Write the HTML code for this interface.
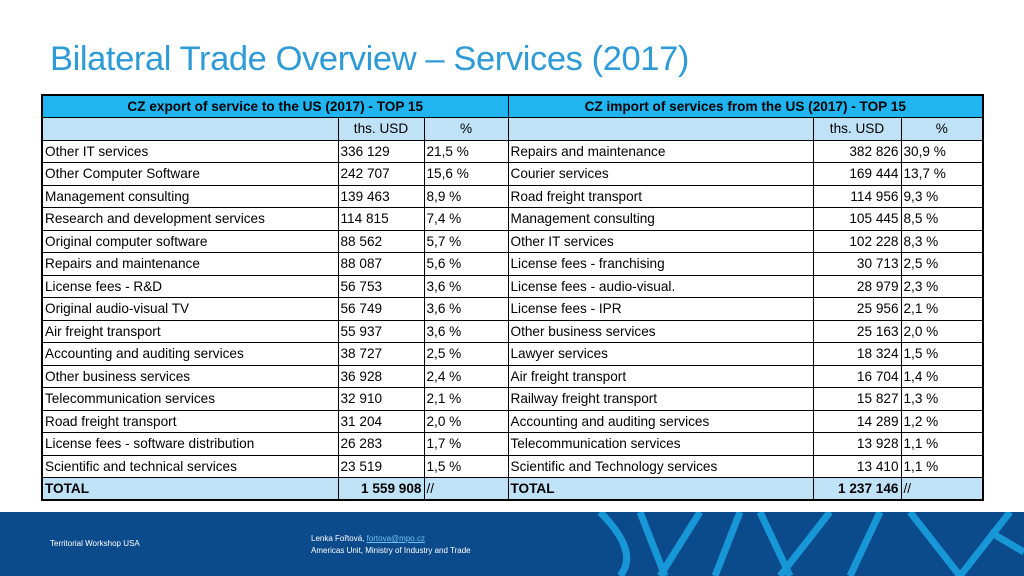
<!DOCTYPE html>
<html><head><meta charset="utf-8"><style>
body{margin:0;width:1024px;height:576px;overflow:hidden;background:#fff;font-family:"Liberation Sans",sans-serif;position:relative}
h1{position:absolute;left:50px;top:40px;margin:0;font-weight:normal;font-size:34.5px;color:#2e9bd6;letter-spacing:-0.4px}
table{position:absolute;left:41px;top:94px;border-collapse:collapse;table-layout:fixed;border:2px solid #000}
td{border:1px solid #000;font-size:13.6px;padding:0 2px;height:21.5px;line-height:21px;white-space:nowrap;overflow:hidden}
tr.h td{background:#20b4f0;font-weight:bold;text-align:center;height:20.5px}
tr.s td{background:#bfe2f6;text-align:center}
tr.t td{background:#bfe2f6;font-weight:bold;height:21px}
tr.t td.n{font-weight:normal}
.r{text-align:right}
#footer{position:absolute;left:0;top:512px;width:1024px;height:64px;background:#0b4a8b;color:#fff;font-size:8px}
</style></head><body>
<h1>Bilateral Trade Overview – Services (2017)</h1>
<table>
<colgroup><col style="width:296px"><col style="width:86px"><col style="width:84px"><col style="width:305px"><col style="width:88px"><col style="width:82px"></colgroup>
<tr class="h"><td colspan="3">CZ export of service to the US (2017) - TOP 15</td><td colspan="3">CZ import of services from the US (2017) - TOP 15</td></tr>
<tr class="s"><td></td><td>ths. USD</td><td>%</td><td></td><td>ths. USD</td><td>%</td></tr>
<tbody id="rows"></tbody>
<tr class="t"><td>TOTAL</td><td class="r" style="vertical-align:bottom">1 559 908</td><td class="n">//</td><td>TOTAL</td><td class="r" style="vertical-align:bottom">1 237 146</td><td class="n">//</td></tr>
</table>
<div id="footer">
<svg width="1024" height="64" style="position:absolute;left:0;top:0">
<g stroke="#1aa0e0" stroke-width="7" fill="none" opacity="0.9">
<path d="M600 0 Q640 40 620 64"/><path d="M640 0 L665 64"/><path d="M700 0 L660 64"/><path d="M740 0 L715 64"/><path d="M760 0 L790 64"/><path d="M830 0 L780 64"/><path d="M880 0 L850 64"/><path d="M910 0 L960 64"/><path d="M1010 0 L960 64"/><path d="M990 20 L1024 40"/>
</g></svg>
<div style="position:absolute;left:50px;top:27px">Territorial Workshop USA</div>
<div style="position:absolute;left:311px;top:21px;line-height:12px">Lenka Fořtová, <span style="color:#6fc3f0;text-decoration:underline">fortova@mpo.cz</span><br>Americas Unit, Ministry of Industry and Trade</div>
</div>
<script>
const expNames=["Other IT services","Other Computer Software","Management consulting","Research and development services","Original computer software","Repairs and maintenance","License fees - R&D","Original audio-visual TV","Air freight transport","Accounting and auditing services","Other business services","Telecommunication services","Road freight transport","License fees - software distribution","Scientific and technical services"];
const expVals=["336 129","242 707","139 463","114 815","88 562","88 087","56 753","56 749","55 937","38 727","36 928","32 910","31 204","26 283","23 519"];
const expPct=["21,5 %","15,6 %","8,9 %","7,4 %","5,7 %","5,6 %","3,6 %","3,6 %","3,6 %","2,5 %","2,4 %","2,1 %","2,0 %","1,7 %","1,5 %"];
const impNames=["Repairs and maintenance","Courier services","Road freight transport","Management consulting","Other IT services","License fees - franchising","License fees - audio-visual.","License fees - IPR","Other business services","Lawyer services","Air freight transport","Railway freight transport","Accounting and auditing services","Telecommunication services","Scientific and Technology services"];
const impVals=["382 826","169 444","114 956","105 445","102 228","30 713","28 979","25 956","25 163","18 324","16 704","15 827","14 289","13 928","13 410"];
const impPct=["30,9 %","13,7 %","9,3 %","8,5 %","8,3 %","2,5 %","2,3 %","2,1 %","2,0 %","1,5 %","1,4 %","1,3 %","1,2 %","1,1 %","1,1 %"];
const tb=document.getElementById('rows');
for(let i=0;i<expNames.length;i++){
const tr=document.createElement('tr');


const cells=[[expNames[i],''],[expVals[i],''],[expPct[i],''],[impNames[i],''],[impVals[i],'r'],[impPct[i],'']];
for(const c of cells){const td=document.createElement('td');td.textContent=c[0];if(c[1])td.className=c[1];tr.appendChild(td);}
tb.appendChild(tr);}
</script>
</body></html>
